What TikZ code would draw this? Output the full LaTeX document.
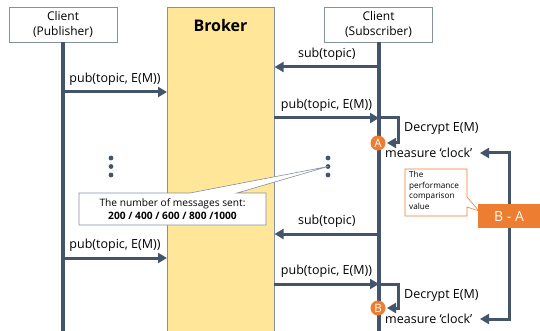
\documentclass[tikz,border=0pt]{standalone}
\usepackage{fontspec}
\setmainfont{Open Sans}
\usetikzlibrary{arrows.meta}
\definecolor{ln}{HTML}{44546A}
\definecolor{brk}{HTML}{FFE699}
\definecolor{org}{HTML}{ED7D31}
\definecolor{bx}{HTML}{8490A4}
\begin{document}
\begin{tikzpicture}[x=1pt,y=-1pt,
  life/.style={draw=ln, line width=3.2pt},
  arr/.style={draw=ln, line width=3pt, line join=miter, -{Triangle[length=9pt,width=10pt]}},
  client/.style={draw=bx, line width=0.8pt, fill=white, minimum width=108pt, minimum height=35pt, align=center, font=\fontsize{12}{15}\selectfont, inner sep=0pt},
  lbl/.style={font=\fontsize{12.5}{14}\selectfont, inner sep=0pt, text=black},
  badge/.style={circle, fill=org, text=white, minimum size=15pt, inner sep=0pt, font=\fontsize{11.5}{12}\selectfont},
  dotc/.style={circle, fill=ln, minimum size=4.8pt, inner sep=0pt},
]
\useasboundingbox (0,0) rectangle (540,331);
% broker
\node[draw=bx, line width=0.6pt, fill=brk, minimum width=107pt, minimum height=340pt, anchor=north west, inner sep=0pt] (broker) at (167,7) {};
\node[font=\bfseries\fontsize{16}{18}\selectfont] (brokerlbl) at (220.5,26) {Broker};
% clients
\node[client] (pub) at (63,24.5) {Client\\(Publisher)};
\node[client] (sub) at (378.5,24.5) {Client\\(Subscriber)};
\coordinate (pubend) at (63,345);
\coordinate (subend) at (379,345);
\draw[life] (pub.south) -- (pubend);
\draw[life] (sub.south -| subend) -- (subend);
% first round
\coordinate (s1) at (379,67);
\draw[arr] (s1) -- (broker.east |- s1) node[lbl, midway, above=4.5pt] {sub(topic)};
\coordinate (p1) at (63,92);
\draw[arr] (p1) -- (broker.west |- p1) node[lbl, midway, above=4.5pt] {pub(topic, E(M))};
\coordinate (p2) at (274,118);
\draw[arr] (p2) -- (subend |- p2) node[lbl, midway, above=4.5pt] {pub(topic, E(M))};
\coordinate (d1) at (381,118);
\draw[arr] (d1) -- ++(17,0) -- ++(0,25) -- ++(-11,0);
\node[badge] (A) at (378,143) {A};
\node[lbl, anchor=west] (decA) at (404,129) {Decrypt E(M)};
\node[lbl, anchor=west] (mA) at (385,153) {measure ‘clock’};
% second round
\coordinate (s2) at (379,234);
\draw[arr] (s2) -- (broker.east |- s2) node[lbl, midway, above=4.5pt] {sub(topic)};
\coordinate (p3) at (63,258);
\draw[arr] (p3) -- (broker.west |- p3) node[lbl, midway, above=4.5pt] {pub(topic, E(M))};
\coordinate (p4) at (274,284);
\draw[arr] (p4) -- (subend |- p4) node[lbl, midway, above=4.5pt] {pub(topic, E(M))};
\coordinate (d2) at (381,284);
\draw[arr] (d2) -- ++(17,0) -- ++(0,24) -- ++(-11,0);
\node[badge] (B) at (378,308) {B};
\node[lbl, anchor=west] (decB) at (404,296) {Decrypt E(M)};
\node[lbl, anchor=west] (mB) at (385,319) {measure ‘clock’};
% B - A
\node[fill=org, minimum width=62pt, minimum height=24pt, text=white, font=\fontsize{14}{16}\selectfont, inner sep=0pt] (ba) at (509,216) {B - A};
\coordinate (mAe) at (480,153);
\coordinate (mBe) at (480,319);
\draw[arr] (ba.north) |- (mAe);
\draw[arr] (ba.south) |- (mBe);
% performance callout
\draw[draw=org, line width=0.6pt, fill=white] (405,169) -- (467,169) -- (467,197) -- (479,211) -- (467,207) -- (467,216) -- (405,216) -- cycle;
\node[anchor=north west, align=left, font=\fontsize{8.2}{10.5}\selectfont, inner sep=0pt] (perf) at (409,171.5) {The\\performance\\comparison\\value};
% dots
\foreach \i/\y in {1/158,2/166.5,3/175} {
  \node[dotc] (dl\i) at (111,\y) {};
  \node[dotc] (dr\i) at (328,\y) {};
}
% messages callout
\draw[draw=bx, line width=0.6pt, fill=white] (79,193) -- (190,193) -- (dr2.center) -- (237,193) -- (266,193) -- (266,225) -- (79,225) -- cycle;
\node[font=\fontsize{10.2}{13}\selectfont, align=center, inner sep=0pt] (msg) at (172.5,209) {The number of messages sent:\\\textbf{200 / 400 / 600 / 800 /1000}};
\end{tikzpicture}
\end{document}
